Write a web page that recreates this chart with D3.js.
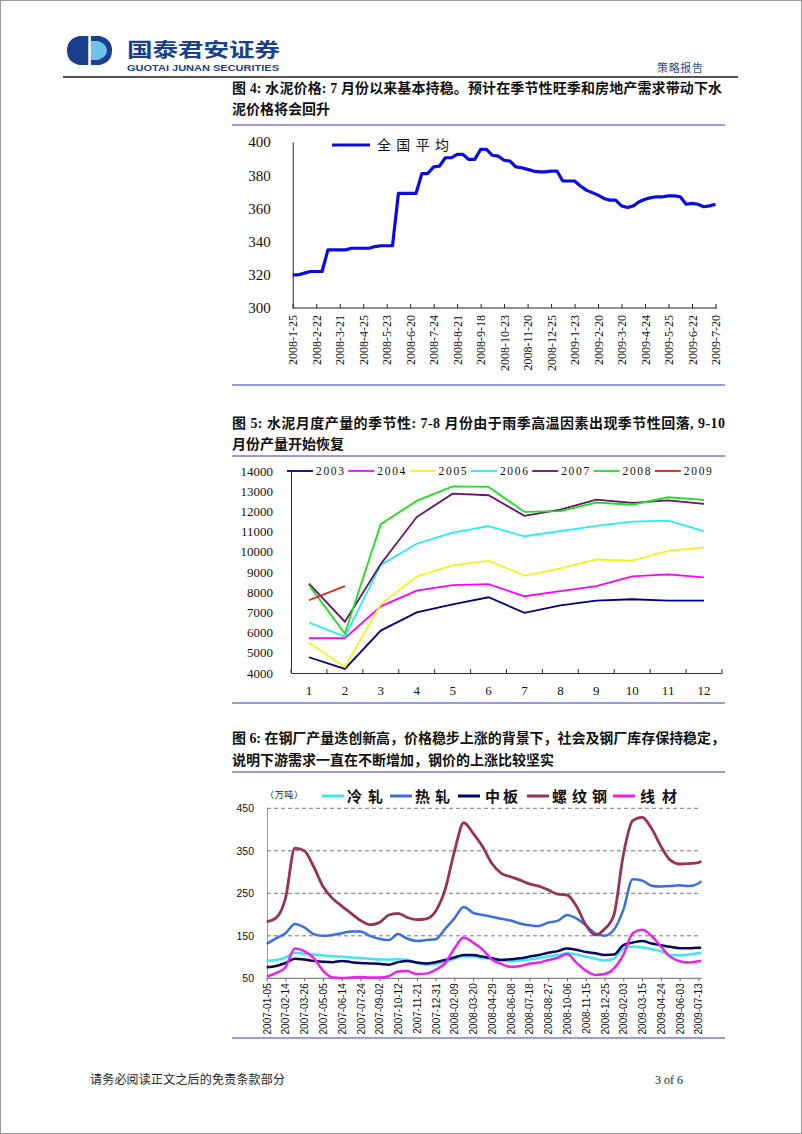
<!DOCTYPE html>
<html><head><meta charset="utf-8">
<script src="https://cdn.jsdelivr.net/npm/d3@7"></script>
<style>
html,body{margin:0;padding:0;background:#fff;}
svg{display:block;}
</style></head><body>
<svg id="page" width="802" height="1134"></svg>
<script>
// ---------------- DATA ----------------
// Chart 1: national average cement price (weekly)
const cementLabels = ["2008-1-25","2008-2-22","2008-3-21","2008-4-25","2008-5-23","2008-6-20","2008-7-24","2008-8-21","2008-9-18","2008-10-23","2008-11-20","2008-12-25","2009-1-23","2009-2-20","2009-3-20","2009-4-24","2009-5-25","2009-6-22","2009-7-20"];
const cementPrice = [320,320,321,322,322,322,335,335,335,335,336,336,336,336,337,337.5,337.5,337.5,
  369,369,369,369,381,381,385,385.5,390.5,390.5,392.5,392.5,389.5,389.5,395.5,395.5,392,391.5,389,388.5,
  385,384.5,383.5,382.5,382,382,382.5,382.5,376.5,376.5,376.5,373.5,371,369.5,368,366,365,365,
  361.5,360.5,361.5,364,365.5,366.5,367,367,367.5,367.5,367,362.5,363,362.5,361,361.5,362.5];
const cementYTicks = [300,320,340,360,380,400];

// Chart 2: monthly cement output by year
const months = [1,2,3,4,5,6,7,8,9,10,11,12];
const years = ["2003","2004","2005","2006","2007","2008","2009"];
const out2003 = [4780,4200,6100,7000,7400,7750,6980,7350,7580,7650,7580,7580];
const out2004 = [5730,5730,7300,8080,8350,8400,7800,8050,8300,8780,8880,8730];
const out2005 = [5500,4300,7400,8780,9330,9560,8820,9180,9620,9560,10050,10220];
const out2006 = [6500,5800,9350,10400,10950,11270,10770,11020,11280,11490,11540,11020];
const out2007 = [8420,6540,9400,11720,12880,12800,11780,12090,12580,12420,12550,12370];
const out2008 = [8350,5950,11370,12520,13240,13210,11980,12010,12440,12330,12700,12570];
const out2009 = [7600,8300];
const outYTicks = [4000,5000,6000,7000,8000,9000,10000,11000,12000,13000,14000];

// Chart 3: steel inventories (10k tonnes)
const steelDates = ["2007-01-05","2007-01-25","2007-02-14","2007-03-06","2007-03-26","2007-04-15","2007-05-05","2007-05-25",
  "2007-06-14","2007-07-04","2007-07-24","2007-08-13","2007-09-02","2007-09-22","2007-10-12","2007-11-01","2007-11-21",
  "2007-12-11","2007-12-31","2008-01-20","2008-02-09","2008-02-29","2008-03-20","2008-04-09","2008-04-29","2008-05-19",
  "2008-06-08","2008-06-28","2008-07-18","2008-08-07","2008-08-27","2008-09-16","2008-10-06","2008-10-26","2008-11-15",
  "2008-12-05","2008-12-25","2009-01-14","2009-02-03","2009-02-23","2009-03-15","2009-04-04","2009-04-24","2009-05-14",
  "2009-06-03","2009-06-23","2009-07-13","2009-07-19"];
const coldRolled = [91,93,99,110,108,106,104,102,101,99,98,96,94,94,95,93,86,82,84,88,96,102,101,98,95,93,90,92,94,97,102,104,109,106,101,96,92,96,120,125,123,119,114,104,104,106,109,109];
const hotRolled  = [131,144,156,178,170,154,150,152,156,160,160,150,143,140,154,143,138,140,142,166,191,218,204,199,195,190,186,179,175,173,181,185,199,191,175,156,150,164,211,283,280,268,266,267,269,267,273,279];
const mediumPlate= [76,79,86,96,94,91,89,88,91,88,86,85,84,82,88,91,87,85,88,93,99,105,105,101,97,93,95,97,101,105,110,114,120,117,112,109,105,106,128,134,138,132,128,124,121,121,122,122];
const rebar      = [183,192,238,356,350,313,266,238,220,203,186,176,181,199,203,193,188,190,208,258,348,416,391,360,320,297,289,281,272,267,258,248,246,220,176,152,166,199,340,421,429,403,361,328,319,320,322,326];
const wireRod    = [54,62,76,120,114,98,68,52,51,52,53,52,52,55,66,67,60,61,70,85,120,146,134,118,94,84,77,79,84,87,93,98,107,87,68,58,60,73,105,156,164,150,125,101,90,87,90,91];
const steelNames = ["冷轧","热轧","中板","螺纹钢","线材"];
const steelYTicks = [50,150,250,350,450];
const steelXTicks = ["2007-01-05","2007-02-14","2007-03-26","2007-05-05","2007-06-14","2007-07-24","2007-09-02","2007-10-12",
  "2007-11-21","2007-12-31","2008-02-09","2008-03-20","2008-04-29","2008-06-08","2008-07-18","2008-08-27","2008-10-06",
  "2008-11-15","2008-12-25","2009-02-03","2009-03-15","2009-04-24","2009-06-03","2009-07-13"];

// ---------------- DRAW ----------------
const svg = d3.select("#page");
const CJK = "'Noto Sans CJK SC', sans-serif";
const TITLE = "'Liberation Serif', 'Noto Sans CJK SC', serif";
const SERIF = "'Liberation Serif', 'Times New Roman', serif";
const SANS = "'Liberation Sans', Arial, sans-serif";
const lav = "#9b9be0";

// page frame
svg.append("rect").attr("x",0.5).attr("y",0.5).attr("width",801).attr("height",1133)
  .attr("fill","none").attr("stroke","#9a9a9a");

// logo
const logo = svg.append("g");
logo.append("path").attr("d","M79,36 L100,36 Q112,39 112,50.5 Q112,62 100,65 L79,65 Q67,62 67,50.5 Q67,39 79,36 Z").attr("fill","#1b3f8f");
logo.append("path").attr("d","M91,41 L98,41 Q107,44 107,50.5 Q107,57 98,60 L91,60 Z").attr("fill","#6ec3ea");
logo.append("rect").attr("x",88.3).attr("y",35).attr("width",2.6).attr("height",31).attr("fill","#fff");
svg.append("text").attr("x",127).attr("y",56.5).text("国泰君安证券")
  .attr("font-family",CJK).attr("font-weight",700).attr("font-size",19.5).attr("fill","#1b3f8f")
  .attr("textLength",153).attr("lengthAdjust","spacingAndGlyphs");
svg.append("text").attr("x",127).attr("y",71).text("GUOTAI JUNAN SECURITIES")
  .attr("font-family",SANS).attr("font-weight",700).attr("font-size",9.5).attr("fill","#1b3f8f")
  .attr("textLength",152).attr("lengthAdjust","spacingAndGlyphs");
svg.append("text").attr("x",657).attr("y",72).text("策略报告")
  .attr("font-family",CJK).attr("font-size",11).attr("fill","#2c4c8c")
  .attr("textLength",46).attr("lengthAdjust","spacing");
svg.append("line").attr("x1",63).attr("x2",738).attr("y1",77).attr("y2",77).attr("stroke","#555").attr("stroke-width",2);

function title(lines){
  lines.forEach(l=>{
    const t = svg.append("text").attr("x",232).attr("y",l.y).text(l.t)
      .attr("font-family",TITLE).attr("font-weight",700).attr("font-size",14).attr("fill","#111");
    if(l.w) t.attr("textLength",l.w).attr("lengthAdjust","spacing");
  });
}
function sep(y){ svg.append("line").attr("x1",232).attr("x2",725).attr("y1",y).attr("y2",y).attr("stroke",lav).attr("stroke-width",2); }

// ---------- Chart 1 ----------
title([{t:"图 4: 水泥价格: 7 月份以来基本持稳。预计在季节性旺季和房地产需求带动下水",y:93,w:490},
       {t:"泥价格将会回升",y:114}]);
sep(125); sep(385);
{
  const x = d3.scaleLinear().domain([0,72]).range([292.7,715.5]);
  const y = d3.scaleLinear().domain([300,400]).range([308,142]);
  const g = svg.append("g");
  const ya = g.append("g").attr("transform","translate(292.7,0)")
    .call(d3.axisLeft(y).tickValues(cementYTicks).tickSize(0).tickPadding(22).tickFormat(d3.format("d")));
  ya.select(".domain").attr("stroke","#222");
  ya.selectAll("text").attr("font-family",SERIF).attr("font-size",15).attr("fill","#111");
  const tickIdx = cementLabels.map((d,i)=>i*4);
  const xa = g.append("g").attr("transform","translate(0,308)")
    .call(d3.axisBottom(x).tickValues(tickIdx).tickSize(-4).tickSizeOuter(0).tickFormat((d,i)=>cementLabels[i]));
  xa.select(".domain").remove();
  xa.append("line").attr("x1",292.7).attr("x2",717).attr("stroke","#222");
  xa.selectAll(".tick line").attr("stroke","#222");
  xa.selectAll("text").attr("font-family",SERIF).attr("font-size",12).attr("fill","#111")
    .attr("transform","rotate(-90)").attr("x",-7).attr("y",0).attr("dy","0.35em").style("text-anchor","end");
  g.append("path").datum(cementPrice)
    .attr("d",d3.line().x((d,i)=>x(i)).y(d=>y(d)))
    .attr("fill","none").attr("stroke","#0a0ae6").attr("stroke-width",3.2).attr("stroke-linejoin","round");
  g.append("line").attr("x1",332).attr("x2",370).attr("y1",145).attr("y2",145).attr("stroke","#0a0ae6").attr("stroke-width",3.2);
  g.append("text").attr("x",377).attr("y",150).text("全国平均").attr("font-family",CJK).attr("font-size",14)
    .attr("fill","#111").attr("textLength",72).attr("lengthAdjust","spacing");
}

// ---------- Chart 2 ----------
title([{t:"图 5: 水泥月度产量的季节性: 7-8 月份由于雨季高温因素出现季节性回落, 9-10",y:428,w:493},
       {t:"月份产量开始恢复",y:449}]);
sep(456); sep(703);
{
  const x = d3.scaleBand().domain(months).range([291,722]);
  const y = d3.scaleLinear().domain([4000,14000]).range([673,471]);
  const g = svg.append("g");
  const ya = g.append("g").attr("transform","translate(291,0)")
    .call(d3.axisLeft(y).tickValues(outYTicks).tickSize(0).tickPadding(18).tickFormat(d3.format("d")));
  ya.select(".domain").attr("stroke","#333");
  ya.selectAll("text").attr("font-family",SERIF).attr("font-size",13).attr("fill","#111");
  const xa = g.append("g").attr("transform","translate(0,673)")
    .call(d3.axisBottom(x).tickSize(0).tickPadding(13));
  xa.select(".domain").attr("stroke","#333");
  xa.selectAll("text").attr("font-family",SERIF).attr("font-size",13).attr("fill","#111");
  months.concat([13]).forEach(m=>{
    const xx = m<=12 ? x(m) : x(12)+x.bandwidth();
    g.append("line").attr("x1",xx).attr("x2",xx).attr("y1",673).attr("y2",669).attr("stroke","#333");
  });
  const series = [out2003,out2004,out2005,out2006,out2007,out2008,out2009];
  const colors = ["#000080","#ff00ff","#f4f41a","#22f0f0","#6b106b","#1ee01e","#ee1c1c"];
  const line = d3.line().x((d,i)=>x(months[i])+x.bandwidth()/2).y(d=>y(d));
  series.forEach((s,k)=>{
    g.append("path").datum(s).attr("d",line).attr("fill","none").attr("stroke",colors[k]).attr("stroke-width",1.8);
  });
  years.forEach((yr,k)=>{
    const lx = 287 + k*61.3;
    g.append("line").attr("x1",lx).attr("x2",lx+26).attr("y1",471).attr("y2",471).attr("stroke",colors[k]).attr("stroke-width",1.8);
    g.append("text").attr("x",lx+29).attr("y",475).text(yr).attr("font-family",SERIF).attr("font-size",11.5)
      .attr("fill","#111").attr("textLength",28).attr("lengthAdjust","spacing");
  });
}

// ---------- Chart 3 ----------
title([{t:"图 6: 在钢厂产量迭创新高，价格稳步上涨的背景下，社会及钢厂库存保持稳定，",y:743,w:493},
       {t:"说明下游需求一直在不断增加，钢价的上涨比较坚实",y:765}]);
sep(772); sep(1038);
{
  const parse = d3.timeParse("%Y-%m-%d");
  const dates = steelDates.map(parse);
  const x = d3.scaleTime().domain([parse("2007-01-05"),parse("2009-07-19")]).range([266.7,701.2]);
  const y = d3.scaleLinear().domain([50,450]).range([978.3,808.3]);
  const g = svg.append("g");
  steelYTicks.filter(v=>v>50).forEach(v=>{
    g.append("line").attr("x1",267).attr("x2",701).attr("y1",y(v)).attr("y2",y(v))
      .attr("stroke","#777").attr("stroke-dasharray","4,3").attr("stroke-width",1);
  });
  const ya = g.append("g").attr("transform","translate(267,0)")
    .call(d3.axisLeft(y).tickValues(steelYTicks).tickSize(0).tickPadding(13));
  ya.select(".domain").attr("stroke","#999");
  ya.selectAll("text").attr("font-family",SANS).attr("font-size",10.5).attr("fill","#111");
  const xa = g.append("g").attr("transform","translate(0,978.3)")
    .call(d3.axisBottom(x).tickValues(steelXTicks.map(parse)).tickSize(3).tickSizeOuter(0).tickFormat(d3.timeFormat("%Y-%m-%d")));
  xa.select(".domain").remove();
  xa.append("line").attr("x1",267).attr("x2",701.5).attr("stroke","#666");
  xa.selectAll(".tick line").attr("stroke","#666");
  xa.selectAll("text").attr("font-family",SANS).attr("font-size",10).attr("fill","#111")
    .attr("transform","rotate(-90)").attr("x",-5).attr("y",0).attr("dy","0.35em").style("text-anchor","end");
  const series = [coldRolled,hotRolled,mediumPlate,rebar,wireRod];
  const colors = ["#3fe6f2","#3b6ee6","#06065e","#983355","#ee1fee"];
  const line = d3.line().x((d,i)=>x(dates[i])).y(d=>y(d)).curve(d3.curveMonotoneX);
  series.forEach((s,k)=>{
    g.append("path").datum(s).attr("d",line).attr("fill","none").attr("stroke",colors[k])
      .attr("stroke-width",k===3?2.8:2.5).attr("stroke-linejoin","round");
  });
  g.append("text").attr("x",265).attr("y",798).text("（万吨）").attr("font-family",CJK).attr("font-size",9)
    .attr("fill","#222").attr("textLength",38).attr("lengthAdjust","spacing");
  const leg = [[322,347,36],[390,415,35],[458,485,33],[527,552,55],[613,640,37]];
  steelNames.forEach((n,k)=>{
    g.append("line").attr("x1",leg[k][0]).attr("x2",leg[k][0]+22).attr("y1",796).attr("y2",796)
      .attr("stroke",colors[k]).attr("stroke-width",3);
    g.append("text").attr("x",leg[k][1]).attr("y",801.5).text(n).attr("font-family",CJK).attr("font-weight",700)
      .attr("font-size",15).attr("fill","#111").attr("textLength",leg[k][2]).attr("lengthAdjust","spacing");
  });
}

// footer
svg.append("text").attr("x",90).attr("y",1084).text("请务必阅读正文之后的免责条款部分")
  .attr("font-family",CJK).attr("font-size",12).attr("fill","#222").attr("textLength",195).attr("lengthAdjust","spacing");
svg.append("text").attr("x",655).attr("y",1084).text("3 of 6").attr("font-family",SERIF).attr("font-size",12).attr("fill","#222");
</script>
</body></html>
